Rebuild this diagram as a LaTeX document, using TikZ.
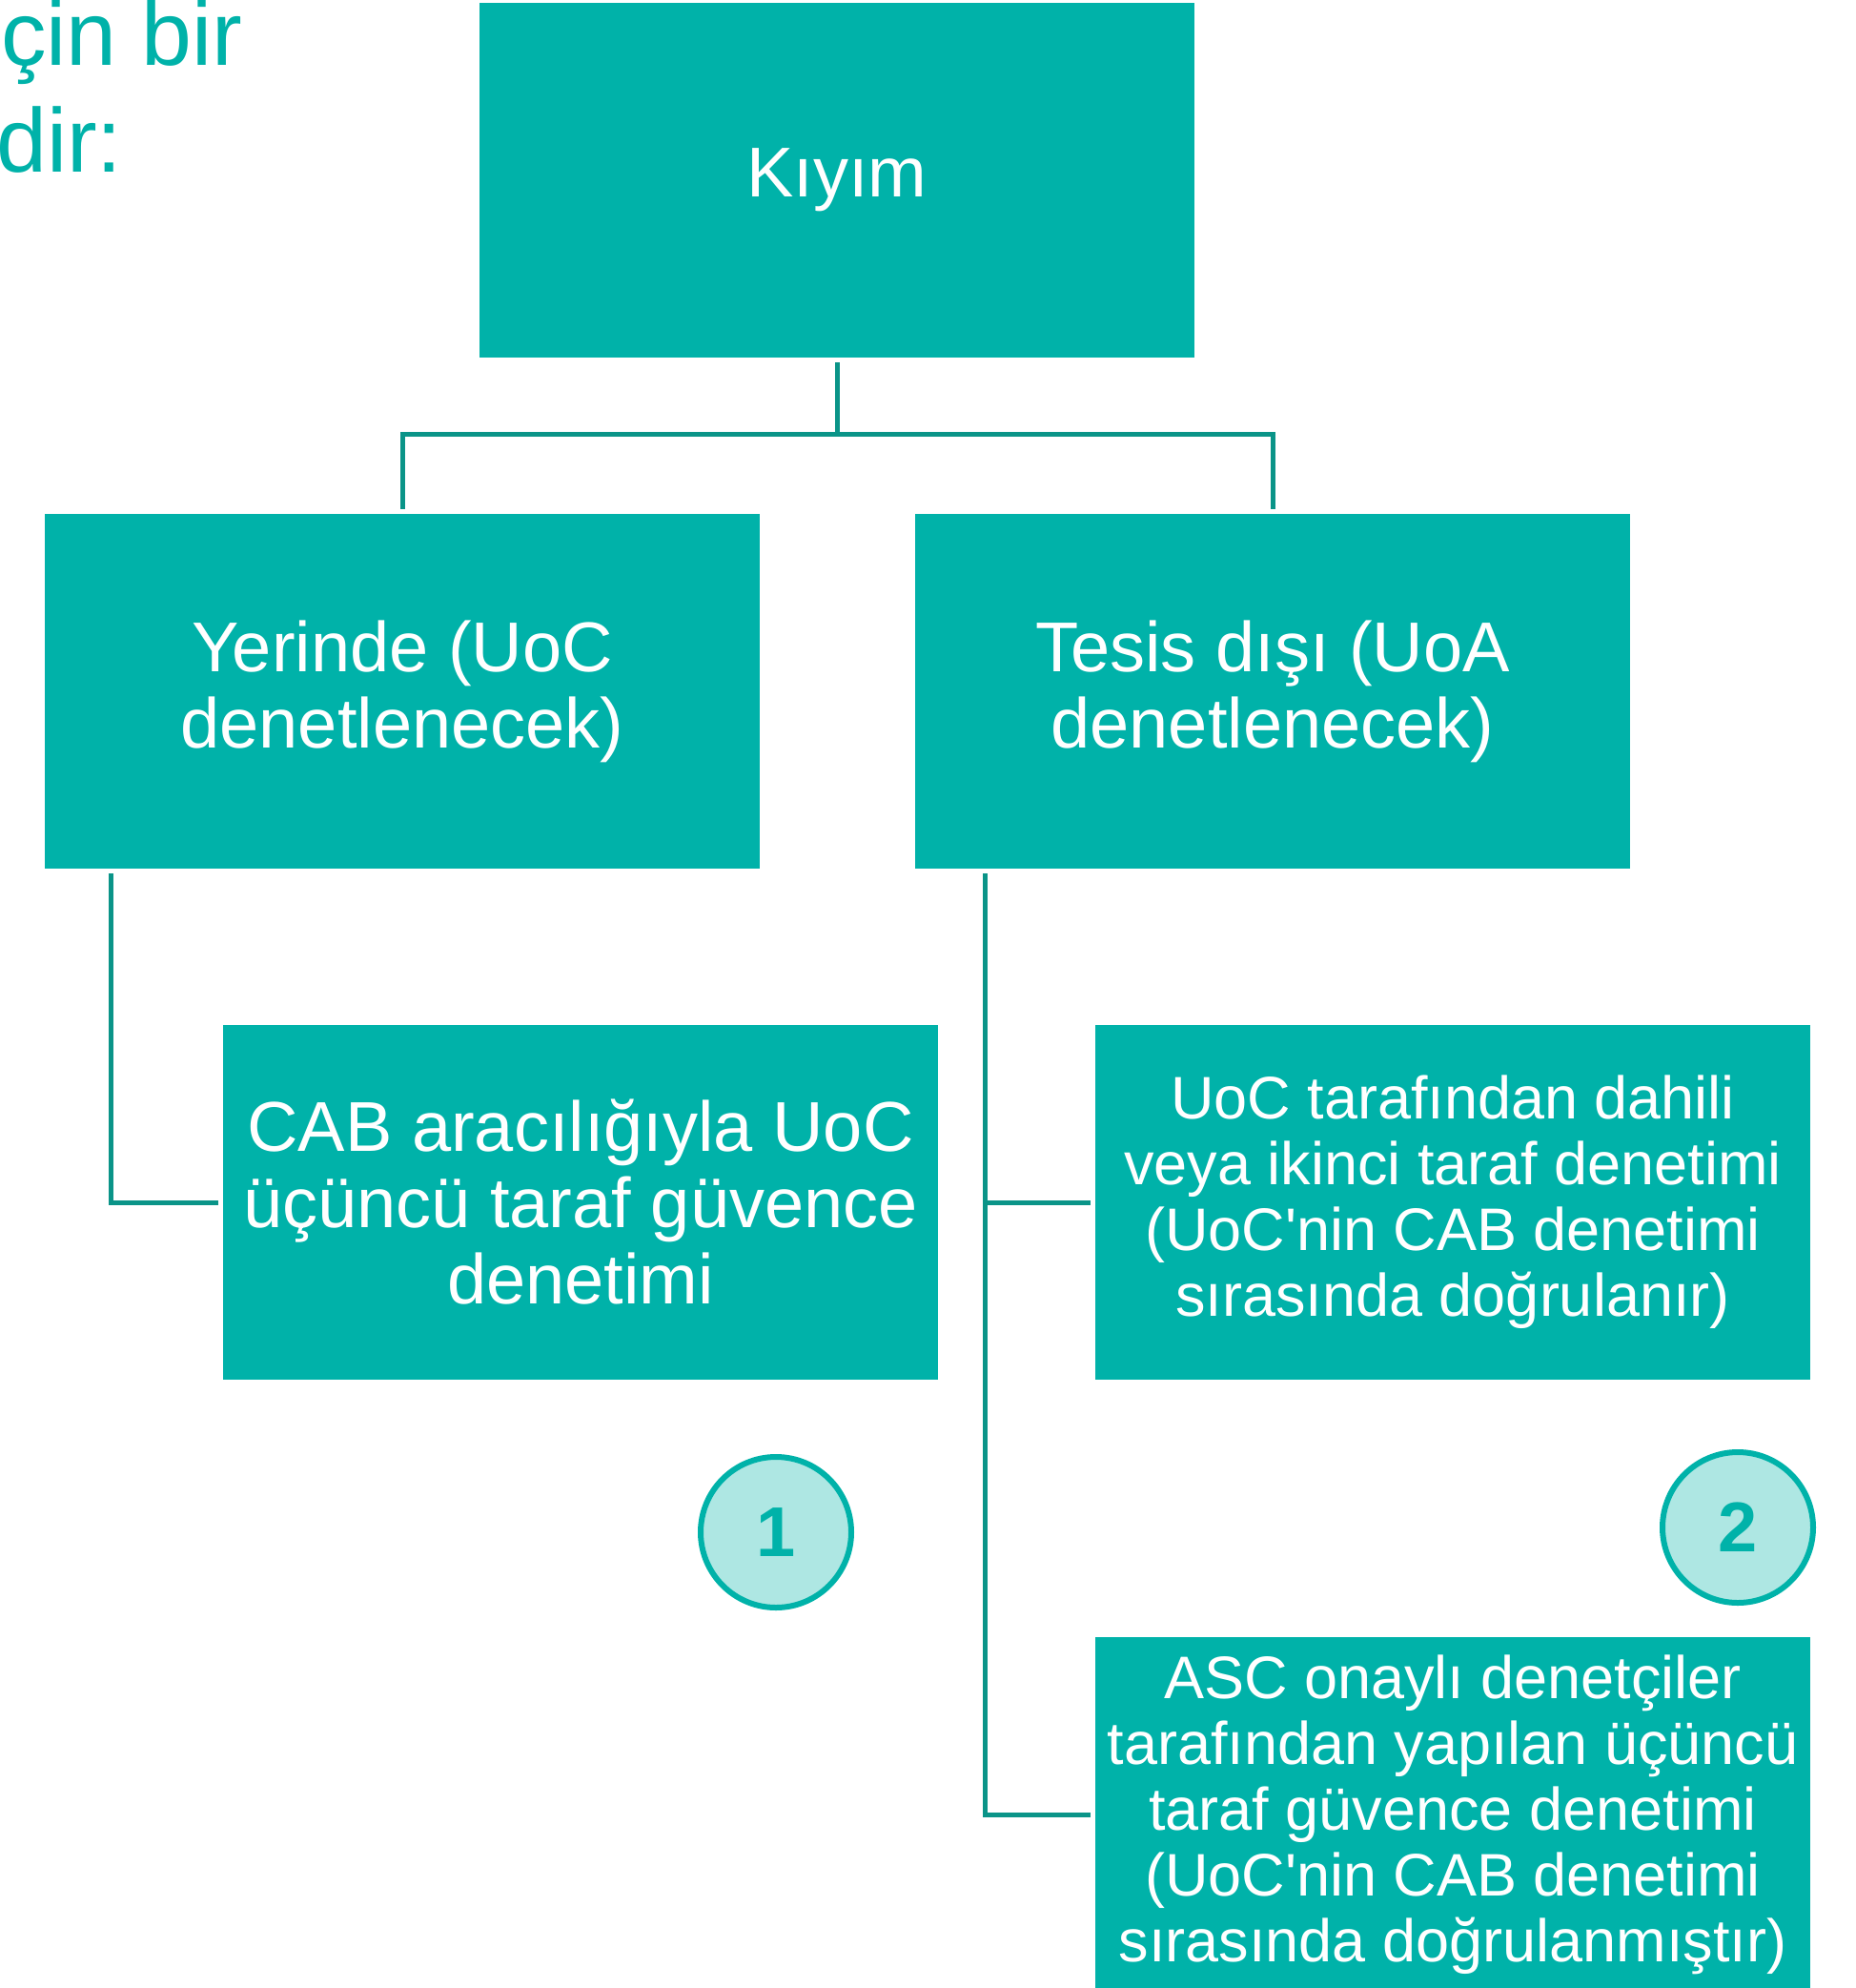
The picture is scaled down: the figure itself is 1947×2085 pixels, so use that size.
\documentclass[tikz,border=0pt]{standalone}
\usepackage{fontspec}
\setmainfont{Liberation Sans}
\definecolor{boxteal}{HTML}{00B2A9}
\definecolor{linkteal}{HTML}{0A9488}
\definecolor{circfill}{HTML}{AEE7E3}
\tikzset{
    boxnode/.style={
        rectangle,
        fill=boxteal, % 方框填充色
        text=white,
        minimum width=750bp,
        minimum height=372bp,
        inner sep=0,
        outer sep=5bp, % 连线与方框之间留空
        align=center,
        font=\fontsize{74bp}{80bp}\selectfont
    },
    smallbox/.style={
        boxnode,
        font=\fontsize{63bp}{69bp}\selectfont
    },
    numnode/.style={
        circle,
        draw=boxteal,
        fill=circfill, % 浅色填充
        line width=6bp,
        minimum size=158bp,
        inner sep=0,
        text=boxteal,
        font=\bfseries\fontsize{74bp}{80bp}\selectfont
    },
    link/.style={
        draw=linkteal,
        line width=5bp
    }
}
\newcommand{\apos}{\textquotesingle}

\begin{document}
\begin{tikzpicture}[x=1bp, y=-1bp]
            \clip (0,0) rectangle (1947,2085);
            % 左上角残留文字
            \node[anchor=base west, text=boxteal, inner sep=0,
                  font=\fontsize{95bp}{112bp}\selectfont] (restA) at (1,68) {çin bir};
            \node[anchor=base west, text=boxteal, inner sep=0,
                  font=\fontsize{95bp}{112bp}\selectfont] (restB) at (-4,180) {dir:};
            % 方框
            \node[boxnode] (kiyim) at (878,189) {Kıyım};
            \node[boxnode] (yerinde) at (422,725) {Yerinde (UoC\\denetlenecek)};
            \node[boxnode] (tesis) at (1335,725) {Tesis dışı (UoA\\denetlenecek)};
            \node[boxnode] (cab) at (609,1261) {CAB aracılığıyla UoC\\üçüncü taraf güvence\\denetimi};
            \node[smallbox] (uoc) at (1524,1261) {UoC tarafından dahili\\veya ikinci taraf denetimi\\(UoC\apos nin CAB denetimi\\sırasında doğrulanır)};
            \node[smallbox] (asc) at (1524,1903) {ASC onaylı denetçiler\\tarafından yapılan üçüncü\\taraf güvence denetimi\\(UoC\apos nin CAB denetimi\\sırasında doğrulanmıştır)};
            % 编号圆圈
            \node[numnode] (one) at (814,1607) {1};
            \node[numnode] (two) at (1823,1602) {2};
            % 连线
            \draw[link] (kiyim.south) -- ++(0,75) coordinate (fork) -| (yerinde.north);
            \draw[link] (fork) -| (tesis.north);
            \draw[link] (yerinde.south west) ++(75,0) |- (cab.west);
            \draw[link] (tesis.south west) ++(78,0) coordinate (trunk) |- (uoc.west);
            \draw[link] (trunk) |- (asc.west);
\end{tikzpicture}
\end{document}
